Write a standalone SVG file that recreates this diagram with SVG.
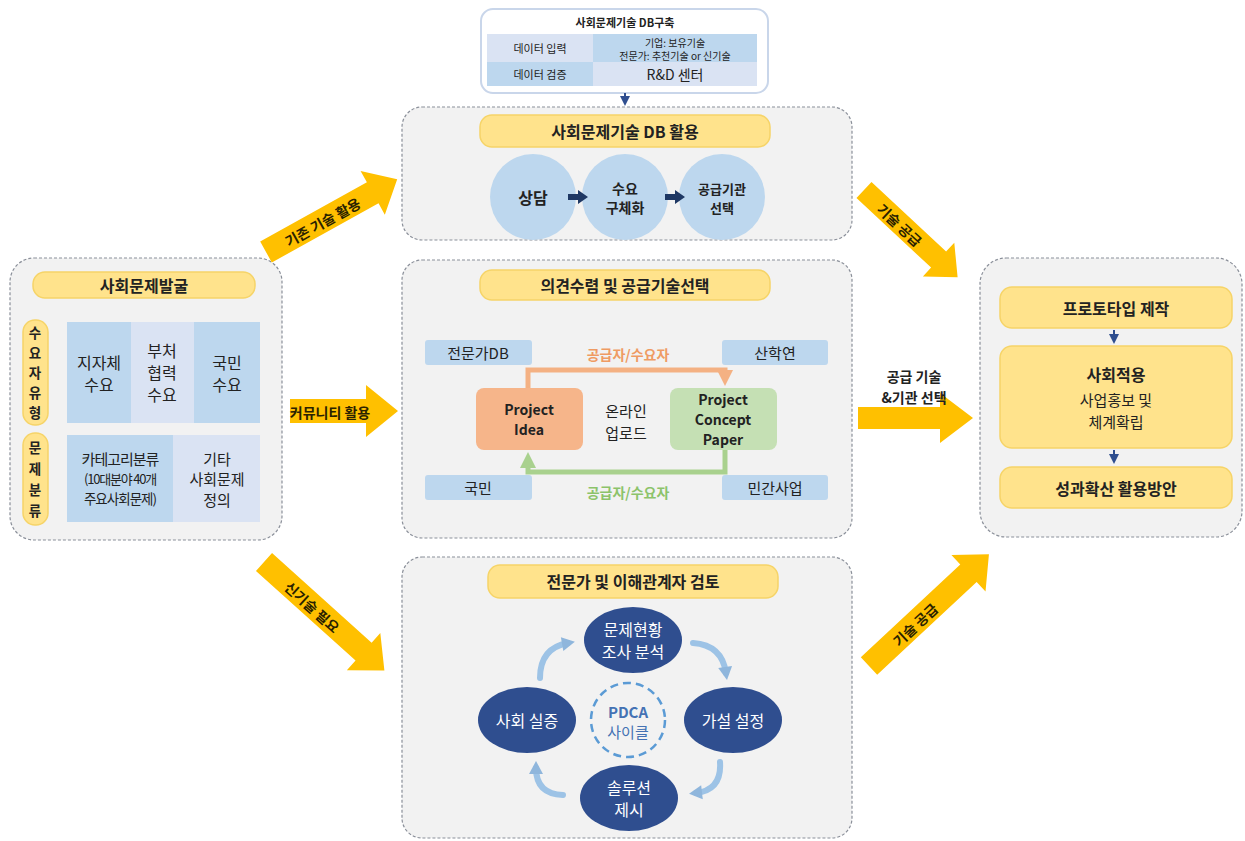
<svg xmlns="http://www.w3.org/2000/svg" width="1245" height="841" viewBox="0 0 1245 841">
  <defs>
    <style>
      text { font-family: "Noto Sans CJK KR", "Noto Sans", sans-serif; fill: #222; text-anchor: middle; dominant-baseline: central; }
      .panel { fill: #f2f2f2; stroke: #8a8f99; stroke-width: 1.2; stroke-dasharray: 3 2; }
      .pill { fill: #ffe38c; stroke: #f6d468; stroke-width: 1.5; }
      .title { font-size: 16px; font-weight: bold; }
      .cellDark { fill: #bdd7ee; }
      .cellLight { fill: #dae3f3; }
      .circ { fill: #bdd7ee; }
      .navy { fill: #2f4e8f; }
      .wt { fill: #ffffff; font-size: 16px; }
      .big { fill: #ffc000; }
      .arrtxt { font-size: 14px; font-weight: bold; fill: #2a2200; }
      .cyc { fill: none; stroke: #9dc3e6; stroke-width: 6; stroke-linecap: round; }
      .cell { font-size: 16px; }
      .vert { font-size: 13.5px; font-weight: bold; }
    </style>
    <marker id="cycHead" markerUnits="userSpaceOnUse" markerWidth="16" markerHeight="16" refX="8" refY="8" orient="auto">
      <path d="M2,1 L15,8 L2,15 Z" fill="#8fb6dc"/>
    </marker>
    <marker id="orHead" markerUnits="userSpaceOnUse" markerWidth="16" markerHeight="16" refX="10" refY="8" orient="auto">
      <path d="M0,0 L16,8 L0,16 Z" fill="#f4b183"/>
    </marker>
    <marker id="grHead" markerUnits="userSpaceOnUse" markerWidth="16" markerHeight="16" refX="10" refY="8" orient="auto">
      <path d="M0,0 L16,8 L0,16 Z" fill="#a9d18e"/>
    </marker>
    <marker id="navyHead" markerUnits="userSpaceOnUse" markerWidth="10" markerHeight="10" refX="5" refY="5" orient="auto">
      <path d="M0,0 L10,5 L0,10 Z" fill="#2f4e8f"/>
    </marker>
  </defs>

  <rect width="1245" height="841" fill="#ffffff"/>

  <!-- DB build box -->
  <g id="db-build">
    <rect x="481" y="9" width="287" height="84" rx="12" fill="#ffffff" stroke="#c9d6ea" stroke-width="2"/>
    <text x="625" y="22" style="font-size:11px;font-weight:bold">사회문제기술 DB구축</text>
    <rect x="487" y="34" width="106" height="28" class="cellLight"/>
    <rect x="593" y="34" width="164" height="28" class="cellDark"/>
    <rect x="487" y="62" width="106" height="24" class="cellDark"/>
    <rect x="593" y="62" width="164" height="24" class="cellLight"/>
    <text x="540" y="48" style="font-size:11px">데이터 입력</text>
    <text x="675" y="42" style="font-size:10px">기업: 보유기술</text>
    <text x="675" y="55" style="font-size:10px">전문가: 추천기술 or 신기술</text>
    <text x="540" y="74" style="font-size:11px">데이터 검증</text>
    <text x="675" y="74" style="font-size:14px">R&amp;D 센터</text>
  </g>

  <!-- Panel: DB utilization -->
  <g id="panel-db">
    <rect x="402" y="107" width="450" height="133" rx="20" class="panel"/>
    <rect x="480" y="115" width="290" height="32" rx="12" class="pill"/>
    <text x="625" y="131" class="title">사회문제기술 DB 활용</text>
    <circle cx="533" cy="197" r="43" class="circ"/>
    <circle cx="625" cy="197" r="43" class="circ"/>
    <circle cx="722" cy="197" r="43" class="circ"/>
    <text x="533" y="197" style="font-size:16px;font-weight:bold">상담</text>
    <text x="625" y="188" style="font-size:14px;font-weight:bold">수요</text>
    <text x="625" y="207" style="font-size:14px;font-weight:bold">구체화</text>
    <text x="722" y="188" style="font-size:13px;font-weight:bold">공급기관</text>
    <text x="722" y="207" style="font-size:13px;font-weight:bold">선택</text>
    <path d="M568,194 h10 v-4 l10,7 l-10,7 v-4 h-10 Z" fill="#1f3864"/>
    <path d="M665,194 h10 v-4 l10,7 l-10,7 v-4 h-10 Z" fill="#1f3864"/>
  </g>

  <!-- Panel: opinion gathering -->
  <g id="panel-opinion">
    <rect x="402" y="260" width="450" height="278" rx="20" class="panel"/>
    <rect x="480" y="270" width="290" height="30" rx="12" class="pill"/>
    <text x="625" y="285" class="title">의견수렴 및 공급기술선택</text>
    <rect x="425" y="340" width="107" height="25" rx="3" class="cellDark"/>
    <rect x="722" y="340" width="106" height="25" rx="3" class="cellDark"/>
    <rect x="425" y="475" width="107" height="25" rx="3" class="cellDark"/>
    <rect x="722" y="475" width="106" height="25" rx="3" class="cellDark"/>
    <text x="478" y="352" style="font-size:15px">전문가DB</text>
    <text x="775" y="352" style="font-size:15px">산학연</text>
    <text x="478" y="487" style="font-size:15px">국민</text>
    <text x="775" y="487" style="font-size:15px">민간사업</text>
    <rect x="476" y="388" width="107" height="62" rx="8" fill="#f6b58a"/>
    <rect x="670" y="388" width="107" height="62" rx="8" fill="#c5e0b4"/>
    <text x="529" y="409" style="font-size:14px;font-weight:bold">Project</text>
    <text x="529" y="429" style="font-size:14px;font-weight:bold">Idea</text>
    <text x="723" y="399" style="font-size:14px;font-weight:bold">Project</text>
    <text x="723" y="419" style="font-size:14px;font-weight:bold">Concept</text>
    <text x="723" y="439" style="font-size:14px;font-weight:bold">Paper</text>
    <text x="626" y="410" style="font-size:15px">온라인</text>
    <text x="626" y="432" style="font-size:15px">업로드</text>
    <text x="628" y="354" style="font-size:14px;font-weight:bold;fill:#ef9b63">공급자/수요자</text>
    <text x="628" y="492" style="font-size:14px;font-weight:bold;fill:#8cc36a">공급자/수요자</text>
  </g>

  <!-- Panel: expert review -->
  <g id="panel-review">
    <rect x="402" y="557" width="450" height="281" rx="20" class="panel"/>
    <rect x="488" y="565" width="290" height="33" rx="12" class="pill"/>
    <text x="633" y="581" class="title">전문가 및 이해관계자 검토</text>
    <circle cx="628" cy="720" r="37" fill="none" stroke="#5b9bd5" stroke-width="2.5" stroke-dasharray="8 5"/>
    <text x="628" y="711" style="font-size:15px;font-weight:bold;fill:#4472b4">PDCA</text>
    <text x="628" y="731" style="font-size:15px;fill:#4472b4">사이클</text>
    <ellipse cx="633" cy="640" rx="49" ry="33" class="navy"/>
    <ellipse cx="733" cy="720" rx="49" ry="33" class="navy"/>
    <ellipse cx="527" cy="720" rx="49" ry="33" class="navy"/>
    <ellipse cx="629" cy="798" rx="49" ry="33" class="navy"/>
    <text x="633" y="629" class="wt">문제현황</text>
    <text x="633" y="651" class="wt">조사 분석</text>
    <text x="733" y="720" class="wt">가설 설정</text>
    <text x="527" y="720" class="wt">사회 실증</text>
    <text x="629" y="787" class="wt">솔루션</text>
    <text x="629" y="809" class="wt">제시</text>
  </g>

  <!-- Panel: problem discovery -->
  <g id="panel-discovery">
    <rect x="10" y="258" width="272" height="282" rx="24" class="panel"/>
    <rect x="33" y="272" width="222" height="26" rx="12" class="pill"/>
    <text x="144" y="285" class="title">사회문제발굴</text>
    <rect x="23" y="320" width="25" height="105" rx="12" class="pill"/>
    <rect x="23" y="433" width="25" height="92" rx="12" class="pill"/>
    <text x="35" y="332" class="vert">수</text>
    <text x="35" y="352" class="vert">요</text>
    <text x="35" y="372" class="vert">자</text>
    <text x="35" y="392" class="vert">유</text>
    <text x="35" y="412" class="vert">형</text>
    <text x="35" y="447" class="vert">문</text>
    <text x="35" y="468" class="vert">제</text>
    <text x="35" y="489" class="vert">분</text>
    <text x="35" y="510" class="vert">류</text>
    <rect x="67" y="322" width="64" height="101" class="cellDark"/>
    <rect x="131" y="322" width="63" height="101" class="cellLight"/>
    <rect x="194" y="322" width="66" height="101" class="cellDark"/>
    <rect x="67" y="435" width="106" height="87" class="cellDark"/>
    <rect x="173" y="435" width="87" height="87" class="cellLight"/>
    <text x="99" y="362" class="cell">지자체</text>
    <text x="99" y="384" class="cell">수요</text>
    <text x="162" y="350" class="cell">부처</text>
    <text x="162" y="372" class="cell">협력</text>
    <text x="162" y="394" class="cell">수요</text>
    <text x="227" y="362" class="cell">국민</text>
    <text x="227" y="384" class="cell">수요</text>
    <text x="120" y="458" style="font-size:15px;letter-spacing:-1px">카테고리분류</text>
    <text x="120" y="478" style="font-size:13px;letter-spacing:-1.2px">(10대분야 40개</text>
    <text x="120" y="498" style="font-size:13.5px;letter-spacing:-1px">주요사회문제)</text>
    <text x="217" y="458" style="font-size:15px">기타</text>
    <text x="217" y="478" style="font-size:15px">사회문제</text>
    <text x="217" y="499" style="font-size:15px">정의</text>
  </g>

  <!-- Panel: prototype and spread -->
  <g id="panel-prototype">
    <rect x="980" y="258" width="262" height="279" rx="26" class="panel"/>
    <rect x="1000" y="287" width="232" height="41" rx="12" class="pill"/>
    <text x="1116" y="308" class="title">프로토타입 제작</text>
    <rect x="1000" y="346" width="232" height="102" rx="12" class="pill"/>
    <text x="1116" y="374" class="title">사회적용</text>
    <text x="1116" y="399" style="font-size:15px">사업홍보 및</text>
    <text x="1116" y="421" style="font-size:15px">체계확립</text>
    <rect x="1000" y="467" width="232" height="41" rx="12" class="pill"/>
    <text x="1116" y="488" class="title">성과확산 활용방안</text>
  </g>

  <!-- Connectors -->
  <g id="connectors">
    <!-- DB build to DB utilization -->
    <line x1="625" y1="93" x2="625" y2="101" stroke="#2f4e8f" stroke-width="2" marker-end="url(#navyHead)"/>
    <!-- right panel step arrows -->
    <line x1="1114" y1="330" x2="1114" y2="339" stroke="#2f4e8f" stroke-width="2" marker-end="url(#navyHead)"/>
    <line x1="1114" y1="450" x2="1114" y2="459" stroke="#2f4e8f" stroke-width="2" marker-end="url(#navyHead)"/>

    <!-- idea / concept loop -->
    <path d="M528,388 V370 H725 V380" fill="none" stroke="#f4b183" stroke-width="5" marker-end="url(#orHead)"/>
    <path d="M725,450 V472 H528 V458" fill="none" stroke="#a9d18e" stroke-width="5" marker-end="url(#grHead)"/>

    <!-- PDCA cycle arrows -->
    <path d="M540,678 Q540,648 568,643" class="cyc" marker-end="url(#cycHead)"/>
    <path d="M693,643 Q722,645 726,673" class="cyc" marker-end="url(#cycHead)"/>
    <path d="M720,762 Q722,790 696,793" class="cyc" marker-end="url(#cycHead)"/>
    <path d="M563,795 Q536,794 536,768" class="cyc" marker-end="url(#cycHead)"/>

    <!-- large flow arrows -->
    <g transform="translate(266,252) rotate(-29)">
      <path d="M0,-12 H122 V-25 L150,0 L122,25 V12 H0 Z" class="big"/>
      <text x="64" y="1" class="arrtxt">기존 기술 활용</text>
    </g>
    <g transform="translate(290,411)">
      <path d="M0,-12 H76 V-26 L108,0 L76,26 V12 H0 Z" class="big"/>
      <text x="40" y="1" class="arrtxt">커뮤니티 활용</text>
    </g>
    <g transform="translate(264,562) rotate(42)">
      <path d="M0,-12 H134 V-25 L162,0 L134,25 V12 H0 Z" class="big"/>
      <text x="66" y="1" class="arrtxt">신기술 필요</text>
    </g>
    <g transform="translate(864,190) rotate(43)">
      <path d="M0,-11 H102 V-23 L128,0 L102,23 V11 H0 Z" class="big"/>
      <text x="50" y="1" class="arrtxt">기술 공급</text>
    </g>
    <g transform="translate(869,666) rotate(-43)">
      <path d="M0,-12 H136 V-25 L164,0 L136,25 V12 H0 Z" class="big"/>
      <text x="62" y="1" class="arrtxt">기술 공급</text>
    </g>
    <g transform="translate(858,418)">
      <path d="M0,-11 H82 V-25 L115,0 L82,25 V11 H0 Z" class="big"/>
    </g>
    <text x="914" y="376" style="font-size:14px;font-weight:bold">공급 기술</text>
    <text x="914" y="397" style="font-size:14px;font-weight:bold">&amp;기관 선택</text>
  </g>
</svg>
